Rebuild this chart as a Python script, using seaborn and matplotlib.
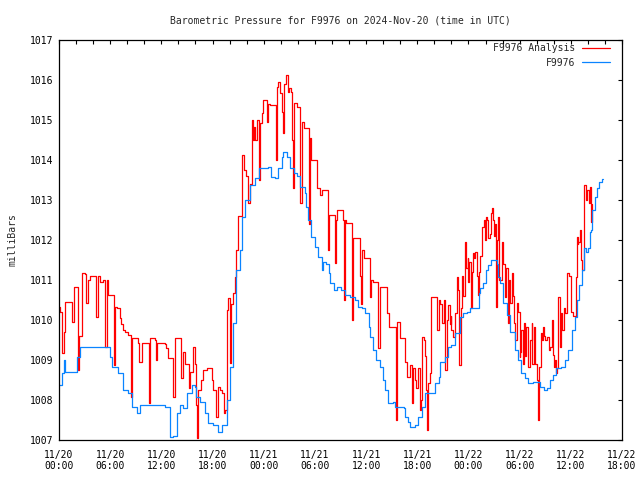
#!/usr/bin/env python3
# -*- coding: utf-8 -*-

"""
Barometric pressure plot for station F9976 (gnuplot look-alike)
"""

import pandas as pd
import matplotlib
matplotlib.use("Agg")
import matplotlib.pyplot as plt
import matplotlib.dates as mdates
import seaborn as sns

# hours after 2024-11-20 00:00 UTC and pressure in mb
station_hours = [
    0.0, 0.3, 0.6, 0.7, 1.9, 2.1, 2.5, 5.4, 6.0, 6.2, 6.9, 7.5, 8.1, 8.5, 9.1, 9.5,
    12.4, 13.0, 13.4, 13.8, 14.2, 14.5, 15.0, 15.6, 15.9, 16.1, 16.5, 17.1, 17.5,
    18.1, 18.6, 19.1, 19.7, 20.0, 20.4, 20.8, 21.2, 21.4, 21.8, 22.4, 23.0, 23.4,
    24.1, 24.5, 24.9, 25.3, 25.7, 26.1, 26.3, 26.7, 27.1, 27.5, 27.9, 28.3, 28.8,
    29.0, 29.2, 29.6, 30.0, 30.4, 30.8, 31.0, 31.3, 31.6, 31.8, 32.2, 32.6, 33.1,
    33.5, 34.1, 34.7, 35.1, 35.5, 35.9, 36.3, 36.5, 36.8, 37.2, 37.6, 38.0, 38.2,
    38.6, 39.2, 39.4, 40.0, 40.4, 40.6, 40.9, 41.1, 41.7, 42.1, 42.5, 42.9, 43.5,
    44.1, 44.5, 44.7, 45.3, 45.6, 46.0, 46.4, 47.0, 47.4, 47.8, 48.2, 49.0, 49.2,
    49.4, 49.7, 50.1, 50.3, 50.7, 51.1, 51.3, 51.5, 51.7, 52.1, 52.5, 52.9, 53.3,
    53.5, 53.8, 54.2, 54.6, 55.0, 55.6, 56.0, 56.4, 56.8, 57.2, 57.6, 57.9, 58.3,
    58.9, 59.3, 59.7, 60.1, 60.5, 60.7, 61.0, 61.3, 61.5, 61.8, 62.0, 62.2, 62.4,
    62.5, 62.8, 63.1, 63.3, 63.6, 63.8,
]
station_mb = [
    1008.38, 1008.67, 1009.0, 1008.7, 1008.7, 1009.08, 1009.33, 1009.33, 1009.08,
    1008.83, 1008.67, 1008.25, 1008.17, 1007.83, 1007.67, 1007.88, 1007.83, 1007.08,
    1007.1, 1007.67, 1007.88, 1007.8, 1008.17, 1008.38, 1008.33, 1008.08, 1007.96,
    1007.67, 1007.42, 1007.38, 1007.2, 1007.38, 1008.0, 1008.83, 1009.92, 1011.25,
    1011.75, 1012.58, 1013.0, 1013.38, 1013.54, 1013.79, 1013.8, 1013.83, 1013.58,
    1013.55, 1013.8, 1014.08, 1014.2, 1014.08, 1013.8, 1013.67, 1013.6, 1013.33,
    1013.17, 1012.83, 1012.5, 1012.08, 1011.83, 1011.58, 1011.25, 1011.46, 1011.4,
    1011.17, 1010.92, 1010.75, 1010.83, 1010.75, 1010.63, 1010.58, 1010.5, 1010.33,
    1010.3, 1010.17, 1009.83, 1009.58, 1009.25, 1009.0, 1008.83, 1008.5, 1008.25,
    1007.92, 1007.95, 1007.83, 1007.83, 1007.8, 1007.58, 1007.46, 1007.33, 1007.38,
    1007.58, 1007.83, 1008.17, 1008.18, 1008.42, 1008.58, 1008.96, 1009.08, 1009.33,
    1009.38, 1009.67, 1010.08, 1010.17, 1010.2, 1010.29, 1010.29, 1010.67, 1010.79,
    1010.92, 1011.25, 1011.38, 1011.5, 1011.5, 1011.4, 1011.08, 1010.92, 1010.42,
    1010.13, 1009.71, 1009.7, 1009.25, 1009.0, 1008.67, 1008.54, 1008.42, 1008.45,
    1008.45, 1008.33, 1008.25, 1008.3, 1008.5, 1008.63, 1008.79, 1008.83, 1009.0,
    1009.25, 1009.75, 1010.08, 1010.5, 1010.88, 1011.25, 1011.79, 1011.7, 1011.8,
    1012.2, 1012.25, 1012.75, 1013.08, 1013.29, 1013.46, 1013.52, 1013.52,
]

analysis_hours = [
    0.0, 0.1, 0.3, 0.4, 0.6, 0.7, 1.4, 1.5, 1.7, 2.1, 2.2, 2.4, 2.7, 3.0, 3.2, 3.4,
    3.6, 4.2, 4.3, 4.6, 4.8, 5.2, 5.4, 5.6, 5.8, 6.2, 6.4, 6.6, 6.8, 7.2, 7.3, 7.5,
    7.7, 8.1, 8.4, 8.6, 9.1, 9.3, 9.4, 9.7, 10.3, 10.5, 10.7, 11.3, 11.4, 11.5, 12.4,
    12.5, 12.8, 13.2, 13.4, 13.6, 14.2, 14.3, 14.5, 14.8, 15.2, 15.4, 15.7, 16.0,
    16.1, 16.2, 16.3, 16.6, 16.9, 17.3, 17.7, 17.9, 18.1, 18.4, 18.6, 18.9, 19.1,
    19.3, 19.5, 19.7, 19.8, 20.0, 20.2, 20.4, 20.6, 20.8, 21.0, 21.5, 21.7, 21.9,
    22.1, 22.2, 22.4, 22.6, 22.7, 22.9, 23.0, 23.2, 23.4, 23.6, 23.8, 23.9, 24.3,
    24.4, 24.5, 24.7, 25.3, 25.4, 25.6, 25.7, 25.9, 26.1, 26.2, 26.3, 26.4, 26.6,
    26.8, 27.0, 27.2, 27.3, 27.4, 27.5, 27.9, 28.2, 28.3, 28.5, 28.7, 29.2, 29.3,
    29.4, 29.5, 30.1, 30.2, 30.6, 30.8, 31.4, 31.5, 31.7, 32.2, 32.3, 32.5, 32.6,
    33.2, 33.3, 33.4, 33.5, 33.6, 34.3, 34.4, 34.5, 35.2, 35.3, 35.4, 35.5, 35.7,
    36.4, 36.5, 36.6, 36.8, 37.3, 37.4, 37.6, 38.3, 38.4, 38.7, 39.4, 39.5, 39.6,
    39.9, 40.0, 40.4, 40.6, 40.8, 41.1, 41.4, 41.5, 41.7, 41.9, 42.1, 42.3, 42.4,
    42.6, 42.8, 42.9, 43.0, 43.1, 43.3, 43.5, 43.6, 44.1, 44.3, 44.5, 44.7, 44.9,
    45.1, 45.3, 45.5, 45.6, 45.8, 45.9, 46.0, 46.2, 46.4, 46.6, 46.8, 46.9, 47.1,
    47.2, 47.4, 47.6, 47.7, 47.9, 48.0, 48.1, 48.3, 48.4, 48.5, 48.7, 48.8, 49.0,
    49.1, 49.2, 49.4, 49.6, 49.8, 49.9, 50.0, 50.2, 50.3, 50.5, 50.6, 50.8, 50.9,
    51.0, 51.1, 51.2, 51.3, 51.5, 51.6, 51.9, 52.1, 52.3, 52.4, 52.6, 52.7, 52.9,
    53.1, 53.2, 53.3, 53.5, 53.7, 53.8, 54.0, 54.1, 54.2, 54.4, 54.5, 54.6, 54.7,
    54.8, 55.0, 55.2, 55.4, 55.5, 55.7, 55.8, 56.0, 56.2, 56.3, 56.5, 56.6, 56.7,
    56.9, 57.0, 57.2, 57.4, 57.6, 57.8, 57.9, 58.0, 58.2, 58.3, 58.4, 58.5, 58.7,
    58.8, 59.0, 59.2, 59.3, 59.5, 59.8, 60.0, 60.2, 60.4, 60.6, 60.7, 60.8, 60.9,
    61.1, 61.2, 61.3, 61.5, 61.6, 61.8, 61.9, 62.1, 62.2, 62.4, 62.5,
]
analysis_mb = [
    1010.33, 1010.2, 1009.75, 1009.17, 1009.7, 1010.46, 1010.46, 1009.96, 1010.83,
    1010.83, 1008.75, 1009.6, 1011.17, 1011.15, 1010.42, 1011.0, 1011.1, 1011.1,
    1010.08, 1011.1, 1010.95, 1011.0, 1009.33, 1011.0, 1010.63, 1010.63, 1008.88,
    1010.33, 1010.3, 1010.04, 1009.9, 1009.75, 1009.7, 1009.63, 1008.08, 1009.54,
    1009.54, 1009.42, 1008.96, 1009.42, 1009.42, 1007.92, 1009.54, 1009.5, 1009.0,
    1009.42, 1009.4, 1009.3, 1009.04, 1009.04, 1008.08, 1009.54, 1009.54, 1008.54,
    1009.2, 1008.9, 1008.29, 1008.7, 1009.33, 1008.9, 1007.88, 1007.04, 1008.25,
    1008.5, 1008.75, 1008.8, 1008.8, 1008.5, 1008.25, 1007.58, 1008.33, 1008.25,
    1008.17, 1007.67, 1007.75, 1010.25, 1010.54, 1008.92, 1010.4, 1010.67, 1011.08,
    1011.75, 1012.6, 1014.13, 1013.75, 1013.6, 1013.17, 1012.92, 1013.4, 1015.0,
    1014.5, 1014.83, 1014.5, 1015.0, 1013.5, 1014.92, 1015.17, 1015.5, 1015.5,
    1014.96, 1015.4, 1015.38, 1015.38, 1014.0, 1015.83, 1015.96, 1015.67, 1015.6,
    1015.2, 1014.67, 1015.9, 1016.13, 1015.71, 1015.79, 1015.7, 1014.5, 1013.29,
    1015.42, 1015.33, 1015.33, 1012.92, 1014.96, 1014.79, 1014.79, 1012.4, 1014.54,
    1014.0, 1014.0, 1013.3, 1013.13, 1013.25, 1013.25, 1011.75, 1012.63, 1012.63,
    1011.42, 1012.5, 1012.75, 1012.75, 1012.5, 1010.5, 1012.5, 1012.42, 1012.42,
    1010.0, 1012.04, 1012.04, 1011.1, 1010.4, 1011.75, 1011.54, 1011.54, 1010.58,
    1011.0, 1010.95, 1010.95, 1009.29, 1010.83, 1010.83, 1010.17, 1009.83, 1009.83,
    1007.5, 1009.96, 1009.96, 1009.54, 1009.54, 1008.96, 1008.58, 1008.88, 1007.92,
    1008.8, 1008.5, 1008.29, 1008.8, 1007.75, 1008.0, 1009.58, 1009.5, 1009.1,
    1008.25, 1007.25, 1008.42, 1008.67, 1010.58, 1010.58, 1009.75, 1010.5, 1010.4,
    1009.92, 1010.5, 1008.75, 1010.0, 1010.38, 1009.9, 1010.1, 1009.75, 1009.58,
    1010.17, 1011.08, 1010.75, 1008.88, 1010.3, 1011.1, 1010.6, 1011.96, 1011.3,
    1011.54, 1010.96, 1011.45, 1010.3, 1011.2, 1011.67, 1011.55, 1011.71, 1011.1,
    1010.63, 1011.2, 1011.6, 1012.33, 1012.5, 1012.0, 1012.58, 1012.5, 1012.05,
    1012.15, 1012.67, 1012.79, 1012.5, 1012.1, 1012.4, 1010.33, 1012.0, 1012.58,
    1011.0, 1011.96, 1011.4, 1010.58, 1011.3, 1009.92, 1011.0, 1010.42, 1011.17,
    1010.6, 1009.92, 1009.5, 1010.42, 1010.2, 1009.08, 1009.2, 1009.75, 1008.9,
    1009.92, 1009.1, 1009.25, 1009.83, 1008.83, 1009.5, 1009.92, 1008.9, 1009.83,
    1008.9, 1008.5, 1007.5, 1008.83, 1009.67, 1009.5, 1009.83, 1009.6, 1009.5,
    1009.58, 1009.25, 1009.33, 1010.0, 1009.13, 1008.83, 1009.0, 1008.67, 1008.79,
    1010.58, 1009.33, 1010.17, 1009.75, 1010.29, 1010.17, 1011.17, 1011.1, 1010.2,
    1010.1, 1010.1, 1011.08, 1012.08, 1011.9, 1011.95, 1012.25, 1011.5, 1011.25,
    1012.42, 1013.38, 1013.0, 1013.25, 1012.92, 1013.33, 1012.46, 1012.9,
]

y_ticks = list(range(1007, 1018))
start_time = pd.Timestamp("2024-11-20 00:00")
end_time = pd.Timestamp("2024-11-22 18:00")

# スタイル設定
sns.set_style("white")
plt.rcParams["font.family"] = ["DejaVu Sans Mono"]
plt.rcParams["font.size"] = 7

station_df = pd.DataFrame({
    "time": start_time + pd.to_timedelta(station_hours, unit="h"),
    "mb": station_mb,
})
analysis_df = pd.DataFrame({
    "time": start_time + pd.to_timedelta(analysis_hours, unit="h"),
    "mb": analysis_mb,
})

fig = plt.figure(figsize=(6.4, 4.8), dpi=100)
ax = fig.add_axes([59 / 640, 40 / 480, 563 / 640, 400 / 480])

sns.lineplot(data=analysis_df, x="time", y="mb", ax=ax, color="#ff0000",
             lw=0.9, drawstyle="steps-post", estimator=None, sort=False,
             label="F9976 Analysis")
sns.lineplot(data=station_df, x="time", y="mb", ax=ax, color="#0a84ff",
             lw=0.9, drawstyle="steps-post", estimator=None, sort=False,
             label="F9976")

ax.set_xlim(start_time, end_time)
ax.set_ylim(1007, 1017)
ax.set_yticks(y_ticks)
ax.xaxis.set_major_locator(mdates.HourLocator(byhour=range(0, 24, 6)))
ax.xaxis.set_minor_locator(mdates.HourLocator(byhour=range(0, 24, 2)))
ax.xaxis.set_major_formatter(mdates.DateFormatter("%m/%d\n%H:%M"))

ax.tick_params(axis="both", which="both", direction="in", top=True, right=True,
               length=3, width=0.8, color="black", labelsize=7, labelcolor="black")
ax.tick_params(axis="x", which="major", pad=7)
ax.tick_params(axis="y", which="major", pad=4)
for spine in ax.spines.values():
    spine.set_color("black")
    spine.set_linewidth(0.9)

ax.set_title("Barometric Pressure for F9976 on 2024-Nov-20 (time in UTC)",
             fontsize=7, pad=12)
ax.set_xlabel("")
ax.set_ylabel("milliBars", fontsize=7)
ax.yaxis.set_label_coords(-0.0746, 0.5)

ax.legend(loc="upper right", bbox_to_anchor=(1 - 12 / 563, 1 - 3 / 400),
          frameon=False, markerfirst=False, borderaxespad=0, borderpad=0,
          handlelength=2.9, handletextpad=0.7, labelspacing=0.5, fontsize=7)

fig.savefig("out.png", dpi=100)
